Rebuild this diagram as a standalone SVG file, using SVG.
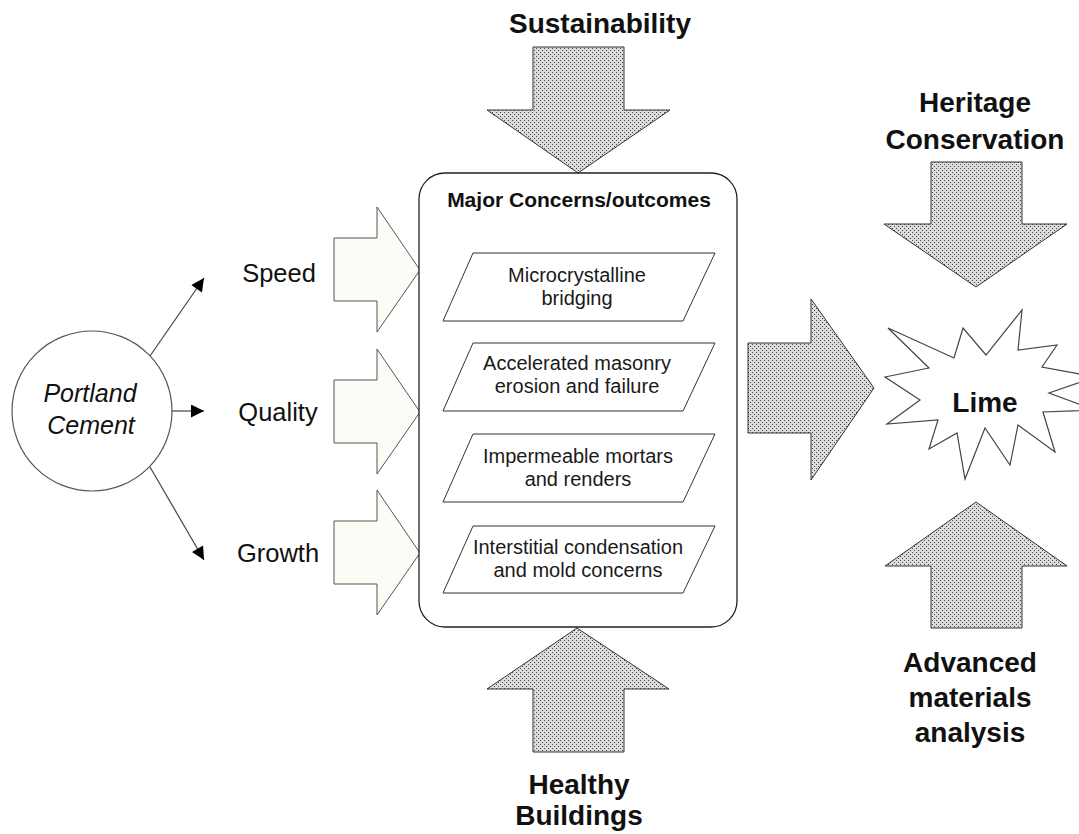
<svg xmlns="http://www.w3.org/2000/svg" width="1079" height="834" viewBox="0 0 1079 834">
<style>
text{font-family:"Liberation Sans",Arial,sans-serif;fill:#111}
.title{font-size:28px;font-weight:bold;text-anchor:middle}
.lbl{font-size:25.5px;text-anchor:middle}
.para{font-size:20px;text-anchor:middle;fill:#1a1a1a}
.hatch{fill:url(#dots);stroke:#333;stroke-width:1}
.light{fill:#fcfcf6;stroke:#555;stroke-width:1}
.pg{fill:#fff;stroke:#333;stroke-width:1}
.conn{stroke:#444;stroke-width:1.2;fill:none;marker-end:url(#ah)}
</style>
<defs>
<pattern id="dots" width="4" height="4" patternUnits="userSpaceOnUse">
<rect width="4" height="4" fill="#dcdcdc"/>
<rect x="0" y="0" width="1" height="1" fill="#444"/>
<rect x="2" y="2" width="1" height="1" fill="#444"/>
</pattern>
<marker id="ah" viewBox="0 0 10 10" refX="10" refY="5" markerWidth="14" markerHeight="13" markerUnits="userSpaceOnUse" orient="auto">
<path d="M0,0 L10,5 L0,10 Z" fill="#000"/>
</marker>
</defs>
<rect width="1079" height="834" fill="#fff"/>

<g id="connectors">
<line class="conn" x1="150" y1="356" x2="204" y2="278"/>
<line class="conn" x1="172" y1="411" x2="204" y2="411"/>
<line class="conn" x1="150" y1="467" x2="204" y2="560"/>
</g>

<g id="portland">
<circle cx="92" cy="411" r="80" fill="#fff" stroke="#555" stroke-width="1.2"/>
<text x="90" y="402" style="font-size:25px;font-style:italic;text-anchor:middle">Portland</text>
<text x="91" y="434" style="font-size:25px;font-style:italic;text-anchor:middle">Cement</text>
</g>

<g id="speed">
<text class="lbl" x="279" y="282">Speed</text>
<path class="light" d="M334,238 H377 V207 L420,270 L377,332 V301 H334 Z"/>
</g>
<g id="quality">
<text class="lbl" x="278" y="421">Quality</text>
<path class="light" d="M334,380 H377 V349 L420,412 L377,474 V443 H334 Z"/>
</g>
<g id="growth">
<text class="lbl" x="278" y="562">Growth</text>
<path class="light" d="M334,521 H377 V490 L420,553 L377,615 V584 H334 Z"/>
</g>

<g id="sustainability">
<text class="title" x="600" y="33">Sustainability</text>
<path class="hatch" d="M533,47 H624 V110 H670 L578,173 L487,110 H533 Z"/>
</g>

<g id="major">
<rect x="419" y="173" width="318" height="454" rx="26" fill="#fff" stroke="#222" stroke-width="1.3"/>
<text x="579" y="207" style="font-size:21px;font-weight:bold;text-anchor:middle">Major Concerns/outcomes</text>
</g>

<g id="c1">
<path class="pg" d="M473,253 H715 L683,321 H443 Z"/>
<text class="para" x="577" y="282">Microcrystalline</text>
<text class="para" x="577" y="305">bridging</text>
</g>
<g id="c2">
<path class="pg" d="M473,343 H715 L683,411 H443 Z"/>
<text class="para" x="577" y="370">Accelerated masonry</text>
<text class="para" x="577" y="393">erosion and failure</text>
</g>
<g id="c3">
<path class="pg" d="M473,434 H715 L683,502 H443 Z"/>
<text class="para" x="578" y="463">Impermeable mortars</text>
<text class="para" x="578" y="486">and renders</text>
</g>
<g id="c4">
<path class="pg" d="M473,526 H715 L683,593 H443 Z"/>
<text class="para" x="578" y="554">Interstitial condensation</text>
<text class="para" x="578" y="577">and mold concerns</text>
</g>

<g id="healthy">
<path class="hatch" d="M577,628 L669,689 H624 V752 H533 V689 H487 Z"/>
<text class="title" x="579" y="794">Healthy</text>
<text class="title" x="579" y="825">Buildings</text>
</g>

<g id="to-lime">
<path class="hatch" d="M748,343 H811 V299 L874,388 L811,480 V433 H748 Z"/>
</g>

<g id="heritage">
<text class="title" x="975" y="112">Heritage</text>
<text class="title" x="975" y="149">Conservation</text>
<path class="hatch" d="M931,162 H1022 V224 H1067 L976,287 L884,224 H931 Z"/>
</g>

<g id="lime">
<path d="M885,377 L929,368 L888,328 L954,358 L963,328 L986,355 L1022,310 L1018,350 L1057,345 L1042,367 L1095,377 L1049,393 L1095,410 L1043,412 L1055,452 L1018,425 L1010,465 L985,428 L965,479 L957,433 L929,449 L938,420 L887,424 L920,400 Z" fill="#fff" stroke="#444" stroke-width="1.2"/>
<text x="985" y="412" style="font-size:28px;font-weight:bold;text-anchor:middle">Lime</text>
</g>

<g id="advanced">
<path class="hatch" d="M976,502 L1067,566 H1022 V628 H931 V566 H885 Z"/>
<text class="title" x="970" y="672">Advanced</text>
<text class="title" x="970" y="707">materials</text>
<text class="title" x="970" y="742">analysis</text>
</g>
</svg>
